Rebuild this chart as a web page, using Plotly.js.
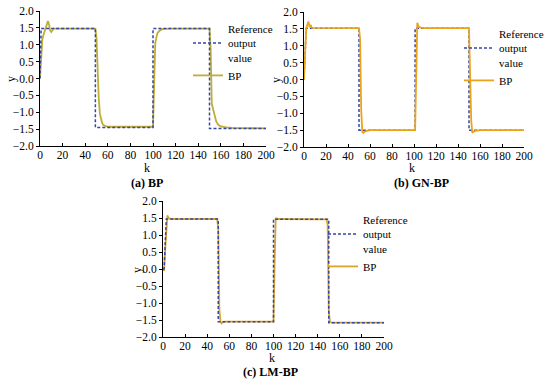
<!DOCTYPE html>
<html>
<head>
<meta charset="utf-8">
<script src="https://cdn.plot.ly/plotly-3.0.1.min.js"></script>
<style>html,body{margin:0;padding:0;background:#fff}#chart{width:550px;height:381px}</style>
</head>
<body>
<div id="chart"></div>
<script>
// ---- data ----
var refA_k = [0, 1, 49, 49, 100, 100, 150, 150, 200];
var refA_y = [0, 1.48, 1.48, -1.45, -1.45, 1.48, 1.48, -1.48, -1.48];
var bpA_k = [0, 1, 2, 3, 4, 5, 6, 7, 8, 9, 10, 11, 12, 14, 49, 50, 51, 52, 53, 54, 55, 56, 58, 60, 65, 100, 101, 102, 103, 104, 106, 108, 110, 115, 150, 151, 152, 153, 154, 155, 156, 158, 160, 165, 170, 200];
var bpA_y = [0, 0.7, 1.15, 1.28, 1.38, 1.5, 1.62, 1.7, 1.6, 1.42, 1.38, 1.45, 1.48, 1.48, 1.48, 1.2, 0.2, -0.6, -1.05, -1.25, -1.32, -1.38, -1.41, -1.43, -1.43, -1.43, -0.2, 1.05, 1.22, 1.35, 1.42, 1.46, 1.47, 1.48, 1.48, 0.9, -0.75, -0.9, -1.05, -1.18, -1.28, -1.38, -1.42, -1.45, -1.46, -1.48];

var refB_k = [0, 2, 50, 50, 101, 101, 150, 150, 200];
var refB_y = [0, 1.52, 1.52, -1.5, -1.5, 1.52, 1.52, -1.5, -1.5];
var bpB_k = [0, 1, 2, 3, 4, 5, 6, 7, 8, 50, 51, 52, 53, 54, 55, 57, 60, 101, 102, 103, 104, 105, 107, 110, 150, 151, 152, 153, 154, 156, 160, 200];
var bpB_y = [0, 0.6, 1.5, 1.62, 1.72, 1.55, 1.62, 1.54, 1.53, 1.52, 1.2, -0.9, -1.55, -1.58, -1.55, -1.52, -1.5, -1.5, 0.6, 1.68, 1.58, 1.55, 1.53, 1.52, 1.52, 0.3, -1.2, -1.58, -1.55, -1.52, -1.5, -1.5];

var refC_k = [0, 1, 3, 50, 50, 100, 100, 150, 150, 200];
var refC_y = [0, 0, 1.47, 1.47, -1.55, -1.55, 1.46, 1.46, -1.58, -1.58];
var bpC_k = [0, 1, 2, 3, 4, 5, 7, 49, 50, 51, 52, 53, 54, 56, 100, 101, 102, 103, 105, 148, 149, 150, 151, 153, 200];
var bpC_y = [0, -0.05, 0.6, 1.3, 1.58, 1.5, 1.47, 1.47, 1.2, -1.2, -1.55, -1.6, -1.57, -1.55, -1.55, 0.2, 1.5, 1.48, 1.47, 1.46, 1.3, -1.2, -1.55, -1.58, -1.58];

var refName = 'Reference<br>output<br>value';
var bpName = 'BP';
var captions = ['(a) BP', '(b) GN-BP', '(c) LM-BP'];
var xTitle = 'k';
var yTitle = 'y';

// ---- styles ----
var refColor = '#3446a6';
var bpColors = ['#bfae35', '#e8a51c', '#d8a52a'];
var font = 'Liberation Serif';

function refTrace(k, y, xa, ya, lg) {
  return {x: k, y: y, xaxis: xa, yaxis: ya, type: 'scatter', mode: 'lines', name: refName,
    legend: lg, legendrank: 1, line: {color: refColor, width: 1.5, dash: '3px,2px'}};
}
function bpTrace(k, y, xa, ya, lg, c) {
  return {x: k, y: y, xaxis: xa, yaxis: ya, type: 'scatter', mode: 'lines', name: bpName,
    legend: lg, legendrank: 2, line: {color: c, width: 1.8}};
}

var data = [
  bpTrace(bpA_k, bpA_y, 'x', 'y', 'legend', bpColors[0]),
  refTrace(refA_k, refA_y, 'x', 'y', 'legend'),
  refTrace(refB_k, refB_y, 'x2', 'y2', 'legend2'),
  bpTrace(bpB_k, bpB_y, 'x2', 'y2', 'legend2', bpColors[1]),
  bpTrace(bpC_k, bpC_y, 'x3', 'y3', 'legend3', bpColors[2]),
  refTrace(refC_k, refC_y, 'x3', 'y3', 'legend3')
];

function xax(dom, anchor) {
  return {domain: dom, anchor: anchor, range: [0, 200], dtick: 20, tick0: 0,
    showline: true, linecolor: '#000', linewidth: 1, ticks: 'inside', ticklen: 3, tickcolor: '#000',
    ticklabelstandoff: -2,
    showgrid: false, zeroline: false, tickfont: {family: font, size: 11.5, color: '#000'}};
}
function yax(dom, anchor) {
  return {domain: dom, anchor: anchor, range: [-2, 2], dtick: 0.5, tick0: 0, tickformat: '.1f',
    showline: true, linecolor: '#000', linewidth: 1, ticks: 'outside', ticklen: 3, tickcolor: '#000',
    showgrid: false, zeroline: false, tickfont: {family: font, size: 11.5, color: '#000'}};
}
function leg(x, y) {
  return {x: x, y: y, xanchor: 'left', yanchor: 'top', bgcolor: 'rgba(0,0,0,0)', borderwidth: 0,
    font: {family: font, size: 11, color: '#000'}, traceorder: 'normal', tracegroupgap: 0, itemwidth: 30};
}
function ann(text, px, py, rot, bold) {
  return {text: bold ? '<b>' + text + '</b>' : text, x: px/550, y: 1 - py/381, xref: 'paper', yref: 'paper',
    showarrow: false, textangle: rot, xanchor: 'center', yanchor: 'middle',
    font: {family: font, size: 12, color: '#000'}};
}

var layout = {
  width: 550, height: 381,
  margin: {l: 0, r: 0, t: 0, b: 0},
  paper_bgcolor: '#fff', plot_bgcolor: '#fff',
  showlegend: true,
  xaxis: xax([40/550, 266/550], 'y'),
  yaxis: yax([1 - 146/381, 1 - 11/381], 'x'),
  xaxis2: xax([304/550, 524/550], 'y2'),
  yaxis2: yax([1 - 147/381, 1 - 12/381], 'x2'),
  xaxis3: xax([163/550, 384/550], 'y3'),
  yaxis3: yax([1 - 337/381, 1 - 201/381], 'x3'),
  legend: leg(188/550, 1 - 15/381),
  legend2: leg(459/550, 1 - 20/381),
  legend3: leg(323/550, 1 - 206/381),
  annotations: [
    ann(captions[0], 147, 183, 0, true),
    ann(captions[1], 422, 183, 0, true),
    ann(captions[2], 270, 372, 0, true),
    ann(xTitle, 147, 168, 0, false),
    ann(xTitle, 412, 168, 0, false),
    ann(xTitle, 272, 358, 0, false),
    ann(yTitle, 11, 79, -90, false),
    ann(yTitle, 276, 80, -90, false),
    ann(yTitle, 137, 270, -90, false)
  ]
};

Plotly.newPlot('chart', data, layout, {staticPlot: true, displayModeBar: false});
</script>
</body>
</html>
